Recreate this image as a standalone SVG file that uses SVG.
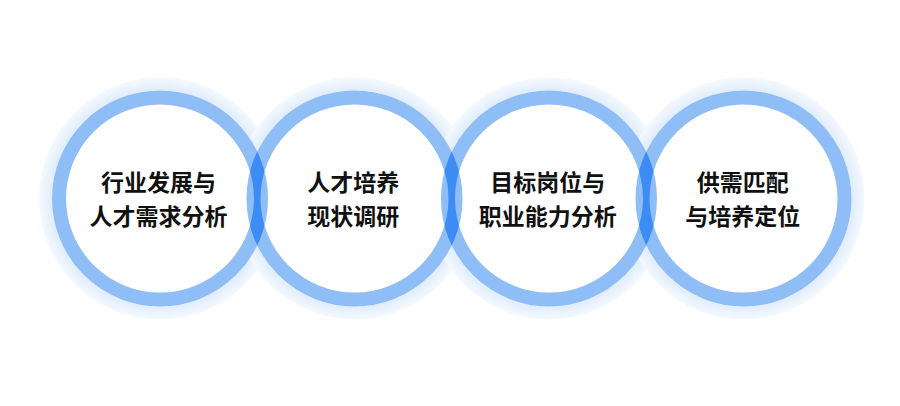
<svg xmlns="http://www.w3.org/2000/svg" width="900" height="406" viewBox="0 0 900 406">
<defs>
<radialGradient id="halo" cx="0.5" cy="0.5" r="0.5">
<stop offset="0.86" stop-color="#dbe9fc"/>
<stop offset="0.93" stop-color="#e7f1fd"/>
<stop offset="1" stop-color="#f5f9fe"/>
</radialGradient>
<clipPath id="clipA1"><path clip-rule="evenodd" d="M52,198.5a108,108 0 1,0 216,0a108,108 0 1,0 -216,0ZM66,198.5a94,94 0 1,0 188,0a94,94 0 1,0 -188,0Z"/></clipPath>
<clipPath id="clipA2"><path clip-rule="evenodd" d="M246.5,198.5a108,108 0 1,0 216,0a108,108 0 1,0 -216,0ZM260.5,198.5a94,94 0 1,0 188,0a94,94 0 1,0 -188,0Z"/></clipPath>
<clipPath id="clipA3"><path clip-rule="evenodd" d="M441,198.5a108,108 0 1,0 216,0a108,108 0 1,0 -216,0ZM455,198.5a94,94 0 1,0 188,0a94,94 0 1,0 -188,0Z"/></clipPath>
<style>
.halo{fill:url(#halo);}
.inner{fill:#ffffff;}
.ring{fill:none;stroke:#8fbdf6;stroke-width:14;}
.lens{fill:none;stroke:#3d8cf3;stroke-width:14;}
.label{font-family:"Noto Sans CJK SC","Noto Sans",sans-serif;font-size:23px;font-weight:700;fill:#111111;text-anchor:middle;}
</style>
</defs>
<rect width="900" height="406" fill="#ffffff"/>
<g id="halos">
<circle class="halo" cx="160" cy="198.5" r="121"/>
<circle class="halo" cx="354.5" cy="198.5" r="121"/>
<circle class="halo" cx="549" cy="198.5" r="121"/>
<circle class="halo" cx="743.5" cy="198.5" r="121"/>
</g>
<g id="fills">
<circle class="inner" cx="160" cy="198.5" r="108"/>
<circle class="inner" cx="354.5" cy="198.5" r="108"/>
<circle class="inner" cx="549" cy="198.5" r="108"/>
<circle class="inner" cx="743.5" cy="198.5" r="108"/>
</g>
<g id="node1">
<circle class="ring" cx="160" cy="198.5" r="101"/>
<text class="label" x="158.5" y="191">行业发展与</text>
<text class="label" x="158.5" y="224.5">人才需求分析</text>
</g>
<g id="node2">
<circle class="ring" cx="354.5" cy="198.5" r="101"/>
<text class="label" x="353.2" y="191">人才培养</text>
<text class="label" x="353.2" y="224.5">现状调研</text>
</g>
<g id="node3">
<circle class="ring" cx="549" cy="198.5" r="101"/>
<text class="label" x="547.8" y="191">目标岗位与</text>
<text class="label" x="547.8" y="224.5">职业能力分析</text>
</g>
<g id="node4">
<circle class="ring" cx="743.5" cy="198.5" r="101"/>
<text class="label" x="742.7" y="191">供需匹配</text>
<text class="label" x="742.7" y="224.5">与培养定位</text>
</g>
<g id="connectors">
<circle class="lens" cx="354.5" cy="198.5" r="101" clip-path="url(#clipA1)"/>
<circle class="lens" cx="549" cy="198.5" r="101" clip-path="url(#clipA2)"/>
<circle class="lens" cx="743.5" cy="198.5" r="101" clip-path="url(#clipA3)"/>
</g>
</svg>
